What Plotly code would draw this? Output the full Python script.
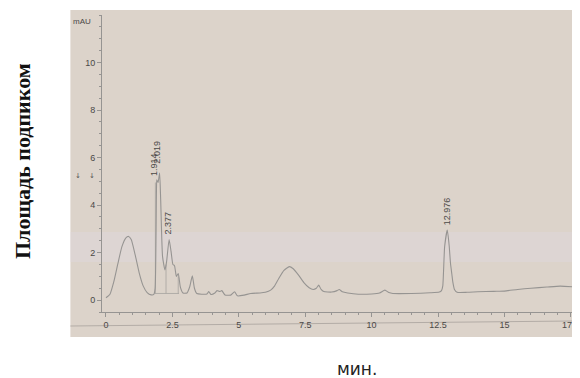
import plotly.graph_objects as go

# ---- data ----
time_min = [0.00, 0.15, 0.30, 0.45, 0.60, 0.75, 0.85, 0.95, 1.10, 1.25, 1.40, 1.55, 1.70, 1.80,
            1.85, 1.90, 1.914, 1.96, 2.019, 2.06, 2.13, 2.22, 2.28, 2.377, 2.45, 2.52, 2.58, 2.65,
            2.72, 2.80, 2.90, 3.05, 3.15, 3.25, 3.33, 3.42, 3.60, 3.80, 3.87, 3.95, 4.10, 4.18,
            4.28, 4.36, 4.48, 4.70, 4.84, 4.95, 5.20, 5.45, 5.80, 6.00, 6.20, 6.35, 6.50, 6.70,
            6.90, 7.05, 7.25, 7.45, 7.65, 7.80, 7.92, 8.01, 8.10, 8.20, 8.50, 8.70, 8.78, 8.90,
            9.10, 9.50, 10.00, 10.30, 10.50, 10.65, 10.80, 11.50, 12.20, 12.55, 12.63, 12.68,
            12.75, 12.85, 12.92, 12.97, 13.02, 13.06, 13.12, 13.22, 13.60, 14.00, 14.60, 15.00,
            15.50, 16.00, 16.60, 17.10, 17.62]
mau = [0.10, 0.25, 0.80, 1.55, 2.25, 2.62, 2.68, 2.55, 1.90, 1.15, 0.60, 0.32, 0.22, 0.24,
       0.50, 4.60, 5.06, 4.95, 5.35, 4.20, 1.83, 1.27, 1.60, 2.55, 2.05, 1.50, 1.45, 1.00,
       1.12, 0.55, 0.30, 0.30, 0.55, 1.02, 0.50, 0.28, 0.25, 0.26, 0.36, 0.24, 0.30, 0.40,
       0.36, 0.40, 0.22, 0.21, 0.35, 0.18, 0.21, 0.28, 0.30, 0.33, 0.42, 0.60, 0.90, 1.25,
       1.41, 1.32, 1.05, 0.74, 0.52, 0.45, 0.50, 0.63, 0.45, 0.36, 0.34, 0.40, 0.45, 0.35,
       0.30, 0.25, 0.26, 0.30, 0.42, 0.32, 0.28, 0.28, 0.31, 0.34, 0.40, 0.60,
       2.25, 2.95, 2.30, 1.55, 1.10, 0.75, 0.45, 0.33, 0.33, 0.35, 0.37, 0.38,
       0.45, 0.50, 0.55, 0.59, 0.56]

peak_labels = ["1.914", "2.019", "2.377", "12.976"]
label_time = [1.80, 1.93, 2.34, 12.82]
label_mau = [5.15, 5.65, 2.66, 3.05]

# integration marks (vertical drop lines and baseline segment)
drop_time = [1.86, 2.26, 2.72]
drop_low = [0.28, 0.28, 0.28]
drop_high = [4.95, 1.50, 1.00]
base_time = [1.82, 2.75]
base_mau = [0.28, 0.28]

x_ticks = [0, 2.5, 5, 7.5, 10, 12.5, 15, 17.5]
x_ticklabels = ["0", "2.5", "5", "7.5", "10", "12.5", "15", "17.5"]
y_ticks = [0, 2, 4, 6, 8, 10]
y_ticklabels = ["0", "2", "4", "6", "8", "10"]

# ---- styling ----
PAPER = "#dcd3ca"
LINE = "#969492"
TXT = "#4a4846"
OFF = 8                      # page body margin of the browser
W, H = 580 - OFF, 378 - OFF
ML, MT = 102 - OFF, 15 - OFF
MB = H - (312 - OFF)
plot_w = W - ML
plot_h = H - MT - MB


def px_to_paper_x(px):       # px = position in the 580x378 screenshot
    return (px - OFF - ML) / plot_w


def px_to_paper_y(py):
    return (H - MB - (py - OFF)) / plot_h


fig = go.Figure()

# drop lines
dx, dy = [], []
for t, lo, hi in zip(drop_time, drop_low, drop_high):
    dx += [t, t, None]
    dy += [lo, hi, None]
dx += base_time + [None]
dy += base_mau + [None]
fig.add_trace(go.Scatter(x=dx, y=dy, mode="lines", line=dict(color="#a6a3a0", width=0.8),
                         hoverinfo="skip", showlegend=False))

fig.add_trace(go.Scatter(x=time_min, y=mau, mode="lines",
                         line=dict(color=LINE, width=1.1, shape="spline", smoothing=0.5),
                         showlegend=False))

# peak labels
for lab, t, v in zip(peak_labels, label_time, label_mau):
    fig.add_annotation(x=t, y=v, xref="x", yref="y", text=lab, textangle=-90,
                       showarrow=False, xanchor="center", yanchor="bottom",
                       font=dict(family="Liberation Sans, Arial", size=9, color=TXT))

# photo background
fig.add_shape(type="rect", xref="paper", yref="paper",
              x0=px_to_paper_x(70), x1=px_to_paper_x(581),
              y0=px_to_paper_y(337), y1=px_to_paper_y(10),
              fillcolor=PAPER, line=dict(width=0), layer="below")
# faint lighter band from lighting
fig.add_shape(type="rect", xref="paper", yref="paper",
              x0=px_to_paper_x(70), x1=px_to_paper_x(581),
              y0=px_to_paper_y(262), y1=px_to_paper_y(232),
              fillcolor="rgba(224,218,230,0.35)", line=dict(width=0), layer="below")
# page edge line under the tick labels
fig.add_shape(type="line", xref="paper", yref="paper",
              x0=px_to_paper_x(70), x1=px_to_paper_x(580),
              y0=px_to_paper_y(326), y1=px_to_paper_y(321),
              line=dict(color="#b3aca6", width=1), layer="below")

fig.add_annotation(xref="paper", yref="paper", x=px_to_paper_x(82), y=px_to_paper_y(21),
                   text="mAU", showarrow=False, xanchor="center", yanchor="middle",
                   font=dict(family="Liberation Sans, Arial", size=8, color=TXT))
for ax_px in (78, 92):
    fig.add_annotation(xref="paper", yref="paper", x=px_to_paper_x(ax_px), y=px_to_paper_y(176),
                       text="↓", showarrow=False, xanchor="center", yanchor="middle",
                       font=dict(family="DejaVu Sans", size=7, color="#555"))

# axis titles
fig.add_annotation(xref="paper", yref="paper", x=px_to_paper_x(21), y=px_to_paper_y(161),
                   text="<b>Площадь подпиком</b>", textangle=-90, showarrow=False,
                   xanchor="center", yanchor="middle",
                   font=dict(family="Liberation Serif, Times New Roman", size=22, color="#111"))
fig.add_annotation(xref="paper", yref="paper", x=px_to_paper_x(360), y=px_to_paper_y(369),
                   text="мин.", showarrow=False, xanchor="center", yanchor="middle",
                   font=dict(family="DejaVu Sans", size=17, color="#222"))

fig.update_layout(
    width=W, height=H,
    margin=dict(l=ML, r=0, t=MT, b=MB, pad=0),
    paper_bgcolor="white", plot_bgcolor=PAPER,
    xaxis=dict(range=[-0.15, 17.62], showgrid=False, zeroline=False,
               showline=True, linecolor=LINE, linewidth=1,
               tickmode="array", tickvals=x_ticks, ticktext=x_ticklabels,
               ticks="outside", ticklen=4, tickcolor=LINE, tickwidth=1,
               ticklabeloverflow="allow",
               minor=dict(dtick=0.5, tick0=0, ticks="outside", ticklen=2, tickcolor=LINE),
               tickfont=dict(family="Liberation Sans, Arial", size=9, color=TXT)),
    yaxis=dict(range=[-0.5, 12.0], showgrid=False, zeroline=False,
               showline=True, linecolor=LINE, linewidth=1,
               tickmode="array", tickvals=y_ticks, ticktext=y_ticklabels,
               ticks="outside", ticklen=4, tickcolor=LINE, tickwidth=1,
               minor=dict(dtick=0.5, tick0=0, ticks="outside", ticklen=2, tickcolor=LINE),
               tickfont=dict(family="Liberation Sans, Arial", size=9, color=TXT)),
)

fig.write_html("out.html")
